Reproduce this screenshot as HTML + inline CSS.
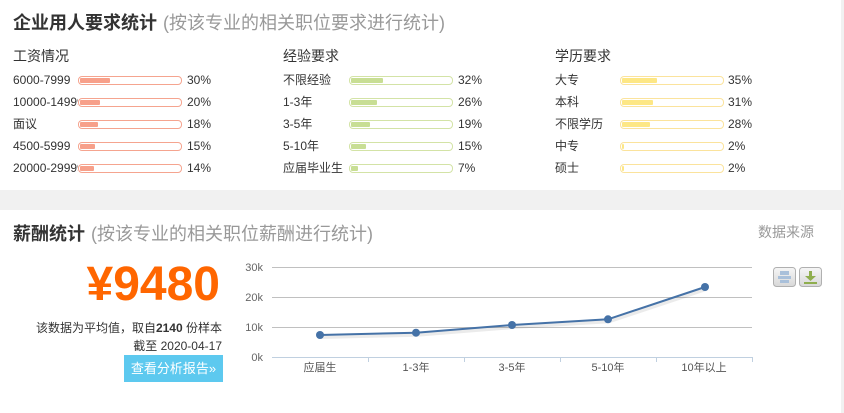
<!DOCTYPE html>
<html><head><meta charset="utf-8">
<style>
*{margin:0;padding:0;box-sizing:border-box;}
html,body{width:844px;height:413px;overflow:hidden;background:#f1f1f1;font-family:"Liberation Sans","Noto Sans CJK SC",sans-serif;color:#333;}
.box{position:absolute;left:0;width:841px;background:#fff;}
.t{position:absolute;white-space:nowrap;}
.title{font-size:18px;line-height:24px;font-weight:bold;color:#333;}
.title span{font-weight:normal;color:#999;margin-left:6px;}
.h{font-size:14px;line-height:18px;color:#333;}
.lab{font-size:12px;line-height:16px;color:#333;width:65px;overflow:hidden;}
.pct{font-size:12px;line-height:16px;color:#333;}
.bar{position:absolute;width:104px;height:9px;border:1px solid;border-radius:4px;padding:1px;background:#fff;}
.bar i{display:block;height:5px;border-radius:1px;}
.r .bar{border-color:#f5a48f;} .r .bar i{background:#f7a08a;}
.g .bar{border-color:#d3e3a6;} .g .bar i{background:#c8de94;}
.y .bar{border-color:#fbe39c;} .y .bar i{background:#fde785;}
</style></head><body>
<div class="box" style="top:0;height:190px;"></div>
<div class="box" style="top:210px;height:203px;"></div>

<div class="t title" style="left:13px;top:11px;">企业用人要求统计<span>(按该专业的相关职位要求进行统计)</span></div>

<div class="t h" style="left:13px;top:47px;">工资情况</div>
<div class="t h" style="left:283px;top:47px;">经验要求</div>
<div class="t h" style="left:555px;top:47px;">学历要求</div>

<div class="r">
<div class="t lab" style="left:13px;top:72px;">6000-7999</div><div class="bar" style="left:78px;top:76px;"><i style="width:30px"></i></div><div class="t pct" style="left:187px;top:72px;">30%</div>
<div class="t lab" style="left:13px;top:94px;">10000-14999</div><div class="bar" style="left:78px;top:98px;"><i style="width:20px"></i></div><div class="t pct" style="left:187px;top:94px;">20%</div>
<div class="t lab" style="left:13px;top:116px;">面议</div><div class="bar" style="left:78px;top:120px;"><i style="width:18px"></i></div><div class="t pct" style="left:187px;top:116px;">18%</div>
<div class="t lab" style="left:13px;top:138px;">4500-5999</div><div class="bar" style="left:78px;top:142px;"><i style="width:15px"></i></div><div class="t pct" style="left:187px;top:138px;">15%</div>
<div class="t lab" style="left:13px;top:160px;">20000-29999</div><div class="bar" style="left:78px;top:164px;"><i style="width:14px"></i></div><div class="t pct" style="left:187px;top:160px;">14%</div>
</div>

<div class="g">
<div class="t lab" style="left:283px;top:72px;">不限经验</div><div class="bar" style="left:349px;top:76px;"><i style="width:32px"></i></div><div class="t pct" style="left:458px;top:72px;">32%</div>
<div class="t lab" style="left:283px;top:94px;">1-3年</div><div class="bar" style="left:349px;top:98px;"><i style="width:26px"></i></div><div class="t pct" style="left:458px;top:94px;">26%</div>
<div class="t lab" style="left:283px;top:116px;">3-5年</div><div class="bar" style="left:349px;top:120px;"><i style="width:19px"></i></div><div class="t pct" style="left:458px;top:116px;">19%</div>
<div class="t lab" style="left:283px;top:138px;">5-10年</div><div class="bar" style="left:349px;top:142px;"><i style="width:15px"></i></div><div class="t pct" style="left:458px;top:138px;">15%</div>
<div class="t lab" style="left:283px;top:160px;">应届毕业生</div><div class="bar" style="left:349px;top:164px;"><i style="width:7px"></i></div><div class="t pct" style="left:458px;top:160px;">7%</div>
</div>

<div class="y">
<div class="t lab" style="left:555px;top:72px;">大专</div><div class="bar" style="left:620px;top:76px;"><i style="width:35px"></i></div><div class="t pct" style="left:728px;top:72px;">35%</div>
<div class="t lab" style="left:555px;top:94px;">本科</div><div class="bar" style="left:620px;top:98px;"><i style="width:31px"></i></div><div class="t pct" style="left:728px;top:94px;">31%</div>
<div class="t lab" style="left:555px;top:116px;">不限学历</div><div class="bar" style="left:620px;top:120px;"><i style="width:28px"></i></div><div class="t pct" style="left:728px;top:116px;">28%</div>
<div class="t lab" style="left:555px;top:138px;">中专</div><div class="bar" style="left:620px;top:142px;"><i style="width:2px"></i></div><div class="t pct" style="left:728px;top:138px;">2%</div>
<div class="t lab" style="left:555px;top:160px;">硕士</div><div class="bar" style="left:620px;top:164px;"><i style="width:2px"></i></div><div class="t pct" style="left:728px;top:160px;">2%</div>
</div>

<div class="t title" style="left:13px;top:222px;">薪酬统计<span>(按该专业的相关职位薪酬进行统计)</span></div>
<div class="t" style="left:758px;top:223px;font-size:14px;line-height:18px;color:#999;">数据来源</div>

<div class="t" style="right:624px;top:257px;font-size:48px;line-height:56px;font-weight:bold;color:#ff6600;">¥9480</div>
<div class="t" style="right:622px;top:320px;font-size:12px;line-height:16px;color:#333;">该数据为平均值，取自<b>2140</b> 份样本</div>
<div class="t" style="right:622px;top:338px;font-size:12px;line-height:16px;color:#333;">截至 2020-04-17</div>
<div class="t" style="left:124px;top:355px;width:99px;height:27px;background:#5dc9ef;color:#fff;font-size:13px;line-height:27px;text-align:center;">查看分析报告»</div>

<svg style="position:absolute;left:0;top:0;" width="844" height="413" xmlns="http://www.w3.org/2000/svg">
  <g stroke="#c0c0c0" stroke-width="1">
    <line x1="272" y1="267.5" x2="752" y2="267.5"/>
    <line x1="272" y1="297.5" x2="752" y2="297.5"/>
    <line x1="272" y1="327.5" x2="752" y2="327.5"/>
  </g>
  <g stroke="#c0d0e0" stroke-width="1">
    <line x1="272" y1="357.5" x2="752" y2="357.5"/>
    <line x1="368.5" y1="357" x2="368.5" y2="362"/>
    <line x1="464.5" y1="357" x2="464.5" y2="362"/>
    <line x1="560.5" y1="357" x2="560.5" y2="362"/>
    <line x1="656.5" y1="357" x2="656.5" y2="362"/>
    <line x1="752.5" y1="357" x2="752.5" y2="362"/>
  </g>
  <g font-family="Liberation Sans, Noto Sans CJK SC, sans-serif" font-size="11" fill="#666" text-anchor="end">
    <text x="263" y="271">30k</text>
    <text x="263" y="301">20k</text>
    <text x="263" y="331">10k</text>
    <text x="263" y="361">0k</text>
  </g>
  <g font-family="Liberation Sans, Noto Sans CJK SC, sans-serif" font-size="11" fill="#555" text-anchor="middle">
    <text x="320" y="371">应届生</text>
    <text x="416" y="371">1-3年</text>
    <text x="512" y="371">3-5年</text>
    <text x="608" y="371">5-10年</text>
    <text x="704" y="371">10年以上</text>
  </g>
  <path d="M320 336 L416 333.7 L512 326 L608 320.3 L705 288" fill="none" stroke="#000" stroke-opacity="0.08" stroke-width="4" transform="translate(1,1)"/>
  <path d="M320 335 L416 332.7 L512 325 L608 319.3 L705 287" fill="none" stroke="#4572a7" stroke-width="2"/>
  <g fill="#4572a7">
    <circle cx="320" cy="335" r="4"/>
    <circle cx="416" cy="332.7" r="4"/>
    <circle cx="512" cy="325" r="4"/>
    <circle cx="608" cy="319.3" r="4"/>
    <circle cx="705" cy="287" r="4"/>
  </g>
  <defs>
    <linearGradient id="bg" x1="0" y1="0" x2="0" y2="1">
      <stop offset="0" stop-color="#f6f6f6"/><stop offset="1" stop-color="#d8d8d8"/>
    </linearGradient>
  </defs>
  <rect x="773.5" y="267.5" width="22" height="19" rx="3" fill="url(#bg)" stroke="#b0b0b0"/>
  <rect x="780" y="271" width="9" height="4" fill="#a9c0da"/>
  <rect x="778" y="276" width="13" height="3" fill="#a9c0da"/>
  <rect x="780" y="280" width="9" height="3" fill="#a9c0da"/>
  <rect x="799.5" y="267.5" width="22" height="19" rx="3" fill="url(#bg)" stroke="#b0b0b0"/>
  <rect x="809" y="271" width="3" height="5" fill="#8fae4e"/>
  <path d="M805 276 L816 276 L810.5 281 Z" fill="#8fae4e"/>
  <rect x="804" y="282" width="13" height="2" fill="#8fae4e"/>
</svg>
</body></html>
